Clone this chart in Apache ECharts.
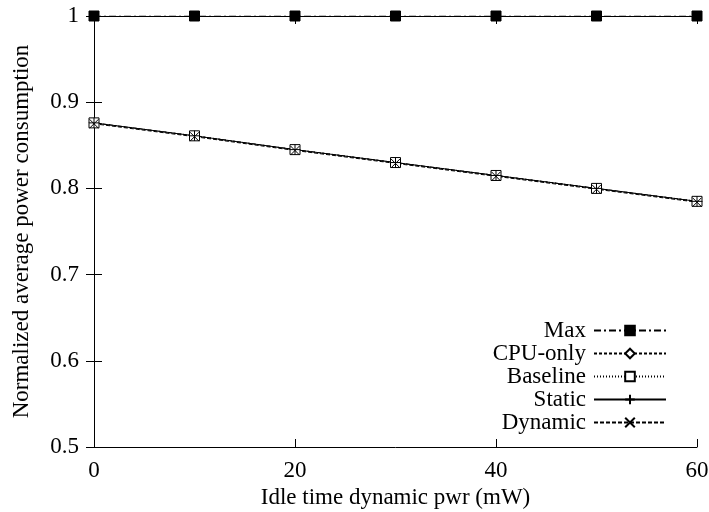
<!DOCTYPE html>
<html>
<head>
<meta charset="utf-8">
<script src="https://cdn.jsdelivr.net/npm/echarts@6/dist/echarts.min.js"></script>
<style>
  html, body { margin: 0; padding: 0; background: #fff; }
  #chart { width: 709px; height: 512px; }
</style>
</head>
<body>
<div id="chart"></div>
<script>
// datos
var idlePower = [0, 10, 20, 30, 40, 50, 60];
var maxVals = [1, 1, 1, 1, 1, 1, 1];
var cpuOnly = [0.876, 0.861, 0.845, 0.830, 0.815, 0.800, 0.785];
var baseline = [0.876, 0.861, 0.845, 0.830, 0.815, 0.800, 0.785];
var staticVals = [0.876, 0.861, 0.845, 0.830, 0.815, 0.800, 0.785];
var dynamicVals = [0.875, 0.860, 0.844, 0.829, 0.814, 0.799, 0.784];

var fuente = "Liberation Serif";
var tamFuente = 23;

function pares(ys) {
  return idlePower.map(function (x, i) { return [x, ys[i]]; });
}

function serie(nombre, ys, simbolo, relleno, tipoLinea, tam) {
  return {
    name: nombre,
    type: "line",
    data: pares(ys),
    symbol: simbolo,
    symbolSize: tam,
    symbolKeepAspect: true,
    showSymbol: true,
    animation: false,
    lineStyle: { color: "#000", width: 1, type: tipoLinea },
    itemStyle: { color: relleno, borderColor: "#000", borderWidth: 1 },
    emphasis: { disabled: true }
  };
}

document.addEventListener("DOMContentLoaded", () => {
  var chart = echarts.init(document.querySelector("#chart"));

  var ejeX = {
    type: "value",
    min: 0,
    max: 60,
    interval: 20,
    axisLine: { show: true, lineStyle: { color: "#000", width: 1 } },
    axisTick: { show: true, inside: true, length: 8, lineStyle: { color: "#000" } },
    splitLine: { show: false }
  };
  var ejeY = {
    type: "value",
    min: 0.5,
    max: 1,
    interval: 0.1,
    axisLine: { show: true, lineStyle: { color: "#000", width: 1 } },
    axisTick: { show: true, inside: true, length: 8, lineStyle: { color: "#000" } },
    splitLine: { show: false }
  };

  chart.setOption({
    backgroundColor: "#fff",
    grid: { left: 94, right: 12, top: 16, bottom: 65, outerBoundsMode: "none", containLabel: false },
    legend: {
      orient: "vertical",
      align: "right",
      right: 37,
      bottom: 73,
      itemWidth: 72,
      itemHeight: 12,
      itemGap: 0,
      textStyle: {
        fontFamily: fuente, fontSize: tamFuente, lineHeight: 23, color: "#000",
        padding: [0, 3, 0, 0]
      },
      data: ["Max", "CPU-only", "Baseline", "Static", "Dynamic"]
    },
    xAxis: [
      Object.assign({}, ejeX, {
        position: "bottom",
        name: "Idle time dynamic pwr (mW)",
        nameLocation: "middle",
        nameGap: 37,
        nameTextStyle: { fontFamily: fuente, fontSize: tamFuente, color: "#000" },
        axisLabel: { fontFamily: fuente, fontSize: tamFuente, color: "#000", margin: 12 }
      }),
      Object.assign({}, ejeX, { position: "top", axisLabel: { show: false } })
    ],
    yAxis: [
      Object.assign({}, ejeY, {
        position: "left",
        name: "Normalized average power consumption",
        nameLocation: "middle",
        nameGap: 61,
        nameTextStyle: { fontFamily: fuente, fontSize: tamFuente, color: "#000" },
        axisLabel: {
          fontFamily: fuente, fontSize: tamFuente, color: "#000", margin: 15,
          formatter: function (v) { return String(Math.round(v * 10) / 10); }
        }
      }),
      Object.assign({}, ejeY, { position: "right", axisLabel: { show: false } })
    ],
    series: [
      serie("Max", maxVals, "rect", "#000", [7, 3, 2, 3], 10),
      serie("CPU-only", cpuOnly, "path://M5,0L10,5L5,10L0,5Z", "#fff", [3, 2], 10),
      serie("Baseline", baseline, "rect", "#fff", [1, 2], 10),
      serie("Static", staticVals, "path://M5,0L5,10M0,5L10,5", "none", "solid", 10),
      serie("Dynamic", dynamicVals, "path://M0,0L10,10M10,0L0,10", "none", [4, 2], 9)
    ]
  });
});
</script>
</body>
</html>
